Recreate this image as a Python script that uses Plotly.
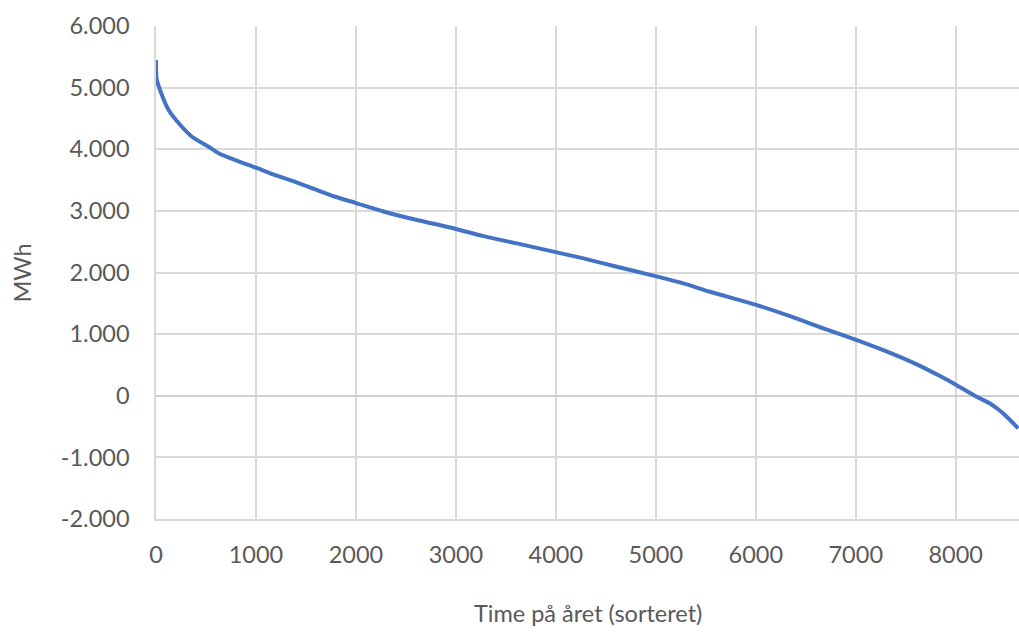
import plotly.graph_objects as go

# Sorted hourly values (duration curve)
hours = [0, 5, 43, 126, 243, 360, 526, 626, 793, 993, 1193, 1393, 1593, 1793, 1993,
         2276, 2610, 2943, 3276, 3610, 4010, 4276, 4610, 4943, 5276, 5543, 6010,
         6343, 6676, 7010, 7276, 7610, 7843, 8010, 8210, 8343, 8476, 8626]
mwh = [5450, 5150, 4950, 4636, 4393, 4203, 4040, 3935, 3825, 3706, 3581, 3472, 3349,
       3229, 3131, 2990, 2851, 2730, 2591, 2472, 2326, 2229, 2093, 1962, 1823, 1687,
       1471, 1292, 1093, 903, 740, 510, 320, 172, -18, -125, -287, -531]

y_ticks = [-2000, -1000, 0, 1000, 2000, 3000, 4000, 5000, 6000]
y_ticktext = [f"{v:,}".replace(",", ".") for v in y_ticks]
x_ticks = [0, 1000, 2000, 3000, 4000, 5000, 6000, 7000, 8000]

font_family = "Lato, 'Open Sans', sans-serif"
text_color = "#595959"
grid_color = "#d9d9d9"
fs = 23.5

fig = go.Figure()
fig.add_trace(go.Scatter(
    x=hours, y=mwh, mode="lines",
    line=dict(color="#4472C4", width=4, shape="spline", smoothing=0.6),
    hoverinfo="x+y", showlegend=False,
))

fig.update_layout(
    width=1019, height=632,
    margin=dict(l=156, r=0, t=26, b=113),
    paper_bgcolor="white", plot_bgcolor="white",
    font=dict(family=font_family, size=fs, color=text_color),
    xaxis=dict(
        range=[0, 8633], tickvals=x_ticks, tickformat="d",
        showgrid=True, gridcolor=grid_color, gridwidth=1.5,
        showline=True, linecolor=grid_color, linewidth=1.5,
        zeroline=False, ticks="", ticklabelstandoff=14,
        tickfont=dict(size=fs, color=text_color),
    ),
    yaxis=dict(
        range=[-2000, 6000], tickvals=y_ticks, ticktext=y_ticktext,
        showgrid=True, gridcolor=grid_color, gridwidth=1.5,
        showline=True, linecolor=grid_color, linewidth=1.5,
        zeroline=True, zerolinecolor="#cfcfcf", zerolinewidth=1.5,
        ticks="", ticklabelstandoff=20,
        tickfont=dict(size=fs, color=text_color),
    ),
    annotations=[
        dict(text="Time på året (sorteret)", xref="paper", yref="paper",
             x=0.5, y=-0.19, xanchor="center", yanchor="middle", showarrow=False,
             font=dict(size=fs, color=text_color, family=font_family)),
        dict(text="MWh", xref="paper", yref="paper", textangle=-90,
             x=-0.1553, y=0.5, xanchor="center", yanchor="middle", showarrow=False,
             font=dict(size=fs, color=text_color, family=font_family)),
    ],
)

# remove the default page margin so the figure fills the window exactly
fig.write_html(
    "out.html",
    config={"displayModeBar": False},
    post_script="document.body.style.margin='0';document.body.style.overflow='hidden';",
)
